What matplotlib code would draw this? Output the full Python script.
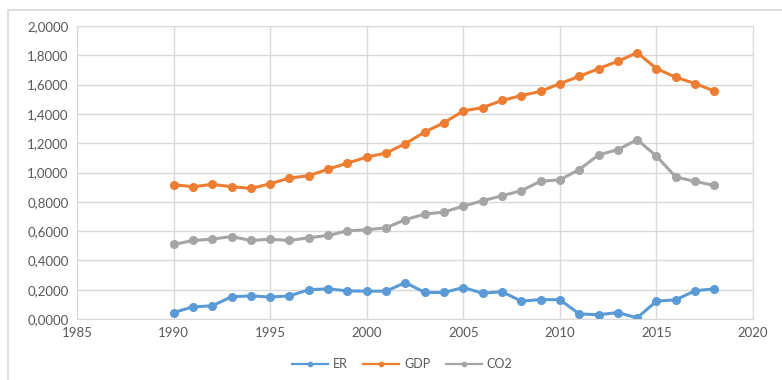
import matplotlib.pyplot as plt
from matplotlib.patches import Rectangle
from matplotlib.ticker import FuncFormatter, MultipleLocator

plt.rcParams['font.family'] = ['Lato', 'DejaVu Sans']

### DATA ###
years = list(range(1990, 2019))
er = [0.044, 0.083, 0.090, 0.152, 0.158, 0.150, 0.158, 0.200, 0.206, 0.192,
      0.190, 0.190, 0.249, 0.181, 0.181, 0.215, 0.176, 0.186, 0.122, 0.133,
      0.131, 0.035, 0.029, 0.044, 0.008, 0.122, 0.131, 0.193, 0.206]
gdp = [0.917, 0.903, 0.919, 0.903, 0.891, 0.923, 0.962, 0.978, 1.023, 1.064,
       1.105, 1.133, 1.197, 1.276, 1.340, 1.420, 1.443, 1.492, 1.525, 1.554,
       1.607, 1.656, 1.709, 1.759, 1.818, 1.709, 1.650, 1.607, 1.556]
co2 = [0.509, 0.536, 0.545, 0.563, 0.536, 0.545, 0.536, 0.555, 0.570, 0.602,
       0.609, 0.623, 0.678, 0.716, 0.730, 0.771, 0.807, 0.841, 0.876, 0.940,
       0.950, 1.020, 1.120, 1.156, 1.224, 1.112, 0.969, 0.939, 0.912]

series = [
    ("ER", er, "#5b9bd5"),
    ("GDP", gdp, "#ed7d31"),
    ("CO2", co2, "#a5a5a5"),
]

fig = plt.figure(figsize=(7.82, 3.80), dpi=100)
ax = fig.add_axes([0.0985, 0.1605, 0.8645, 0.7711])

# chart area border
fig.patches.append(Rectangle((8 / 782, -0.1), 1.2, 1 - 10 / 380 + 0.1,
                             transform=fig.transFigure, fill=False,
                             edgecolor="#d9d9d9", linewidth=1.2))

for name, values, color in series:
    ax.plot(years, values, color=color, linewidth=2.2, marker="o",
            markersize=5.5, label=name)

ax.set_xlim(1985, 2020)
ax.set_ylim(0, 2.0)
ax.xaxis.set_major_locator(MultipleLocator(5))
ax.yaxis.set_major_locator(MultipleLocator(0.2))
ax.yaxis.set_major_formatter(
    FuncFormatter(lambda v, pos: f"{v:.4f}".replace(".", ",")))

ax.grid(True, color="#d9d9d9", linewidth=1.0)
ax.set_axisbelow(True)
for side in ["top", "right", "left", "bottom"]:
    ax.spines[side].set_color("#d9d9d9")
ax.tick_params(length=0, labelsize=9.5, colors="#595959", pad=6)

leg = ax.legend(loc="center", bbox_to_anchor=(0.481, -0.154), ncol=3,
                frameon=False, fontsize=9, labelcolor="#595959",
                handlelength=2.9, handletextpad=0.4, markerscale=0.55,
                columnspacing=1.2)
for line in leg.get_lines():
    line.set_linewidth(1.6)

fig.savefig("out.png", dpi=100)
